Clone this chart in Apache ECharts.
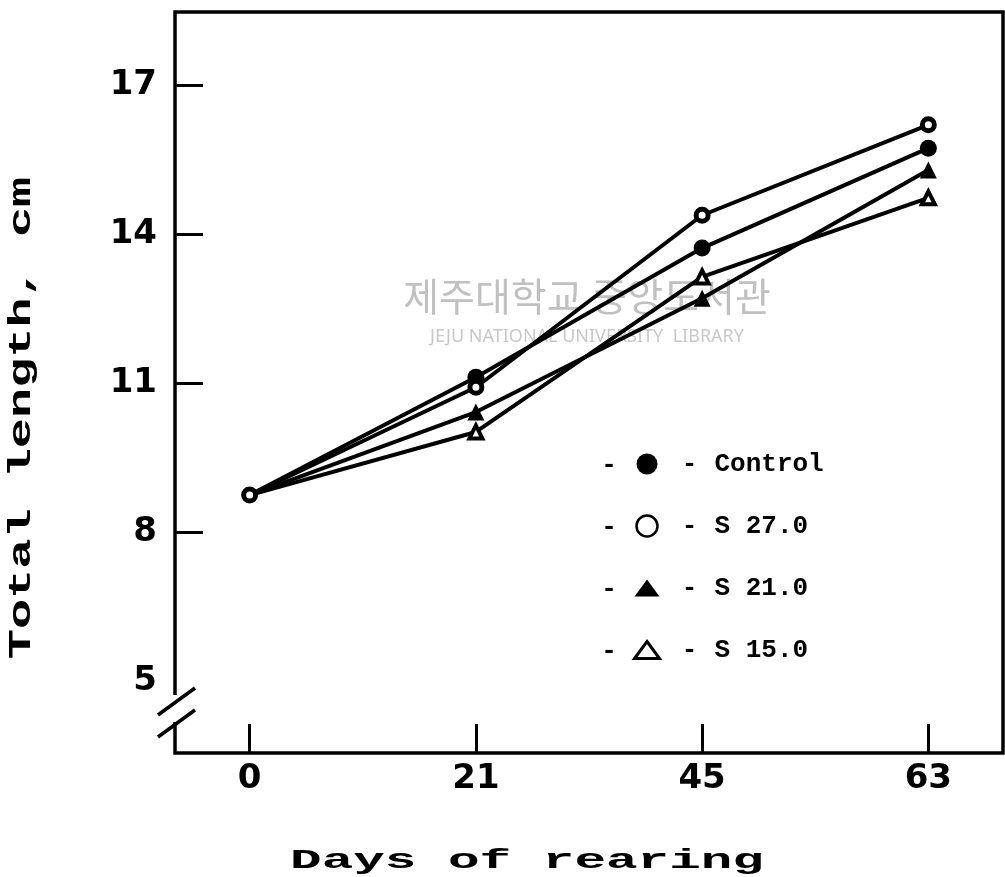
<!DOCTYPE html>
<html><head><meta charset="utf-8">
<script src="https://cdn.jsdelivr.net/npm/echarts@6/dist/echarts.min.js"></script>
<style>html,body{margin:0;padding:0;background:#fff}#c{width:1005px;height:877px}</style>
</head><body><div id="c"></div>
<script>
// ---- data ----
const days = ['0', '21', '45', '63'];
const control = [8.75, 11.12, 13.72, 15.73];
const s27 = [8.75, 10.92, 14.38, 16.20];
const s21 = [8.75, 10.42, 12.71, 15.29];
const s15 = [8.75, 10.02, 13.14, 14.73];
const yLabelValues = [5, 8, 11, 14, 17];
const yTickValues = [8, 11, 14, 17];
const names = ['Control', 'S 27.0', 'S 21.0', 'S 15.0'];

const TRI = 'path://M12.5,0L25,17L0,17Z';
const MONO = '"Liberation Mono", "DejaVu Sans Mono", monospace';
const NUM = '"DejaVu Sans", sans-serif';

function pts(vals, hideFirst) {
  return vals.map((v, i) => (hideFirst && i === 0) ? { value: [i, v], symbolSize: 0 } : [i, v]);
}
const line = { color: '#000', width: 4 };

const LEG_TOP = 451, LEG_ROW = 62;
const dashes = names.map((n, k) => ({
  type: 'text', z: 50, x: 609, y: LEG_TOP + 13 + k * LEG_ROW + 1,
  style: { text: '-', fontFamily: MONO, fontWeight: 'bold', fontSize: 26, fill: '#000', align: 'center', verticalAlign: 'middle' }
}));

const chart = echarts.init(document.getElementById('c'), null, { renderer: 'canvas' });
chart.setOption({
  animation: false,
  backgroundColor: '#fff',
  grid: { left: 175, right: 2, top: 12, bottom: 124, show: true, borderColor: '#000', borderWidth: 3.5, backgroundColor: 'transparent' },
  xAxis: {
    type: 'value', min: -0.33, max: 3.33,
    axisLine: { show: false, onZero: false },
    splitLine: { show: false },
    axisTick: { show: true, inside: true, length: 29, customValues: [0, 1, 2, 3], lineStyle: { color: '#000', width: 3 } },
    axisLabel: { customValues: [0, 1, 2, 3], formatter: v => days[Math.round(v)], margin: 9,
      fontFamily: NUM, fontWeight: 'bold', fontSize: 34, color: '#000' }
  },
  yAxis: {
    type: 'value', min: 3.56, max: 18.47,
    axisLine: { show: false, onZero: false },
    splitLine: { show: false },
    axisTick: { show: true, inside: true, length: 28, customValues: yTickValues, lineStyle: { color: '#000', width: 3 } },
    axisLabel: { customValues: yLabelValues, margin: 18,
      fontFamily: NUM, fontWeight: 'bold', fontSize: 34, color: '#000' }
  },
  legend: {
    orient: 'vertical', left: 633, top: LEG_TOP, padding: 0,
    itemWidth: 25, itemHeight: 21, itemGap: LEG_ROW - 26,
    selectedMode: false,
    data: [
      { name: names[0], icon: 'circle', itemStyle: { color: '#000', borderWidth: 0 } },
      { name: names[1], icon: 'circle', itemStyle: { color: '#fff', borderColor: '#000', borderWidth: 2.5 } },
      { name: names[2], icon: TRI, itemStyle: { color: '#000', borderWidth: 0 } },
      { name: names[3], icon: TRI, itemStyle: { color: '#fff', borderColor: '#000', borderWidth: 3 } }
    ],
    formatter: n => '{d|-}{t|' + n + '}',
    textStyle: {
      color: '#000',
      rich: {
        d: { width: 50, align: 'center', fontFamily: MONO, fontWeight: 'bold', fontSize: 26, lineHeight: 26, color: '#000' },
        t: { fontFamily: MONO, fontWeight: 'bold', fontSize: 26, lineHeight: 26, color: '#000' }
      }
    }
  },
  series: [
    { name: names[0], type: 'line', data: pts(control, true), symbol: 'circle', symbolSize: 17,
      itemStyle: { color: '#000' }, lineStyle: line },
    { name: names[2], type: 'line', data: pts(s21, true), symbol: 'triangle', symbolSize: 17,
      itemStyle: { color: '#000' }, lineStyle: line },
    { name: names[3], type: 'line', data: pts(s15, true), symbol: 'triangle', symbolSize: 13,
      itemStyle: { color: '#fff', borderColor: '#000', borderWidth: 4 }, lineStyle: line },
    { name: names[1], type: 'line', data: pts(s27, false), symbol: 'circle', symbolSize: 12,
      itemStyle: { color: '#fff', borderColor: '#000', borderWidth: 5 }, lineStyle: line }
  ],
  graphic: [
    // watermark
    { type: 'text', z: -10, x: 587, y: 296, style: { text: '제주대학교 중앙도서관', fontFamily: '"Noto Sans CJK KR"', fontSize: 39, fill: '#c0c0c0', align: 'center', verticalAlign: 'middle' } },
    { type: 'text', z: -10, x: 587, y: 337, style: { text: 'JEJU NATIONAL UNIVERSITY  LIBRARY', fontFamily: '"Noto Sans", sans-serif', fontSize: 18, fill: '#c8c8c8', align: 'center', verticalAlign: 'middle' } },
    // axis titles
    { type: 'text', z: 50, x: 22, y: 418, rotation: Math.PI / 2, scaleX: 1.57, scaleY: 1,
      style: { text: 'Total length, cm', fontFamily: MONO, fontWeight: 'bold', fontSize: 32, fill: '#000', align: 'center', verticalAlign: 'middle' } },
    { type: 'text', z: 50, x: 527, y: 861, scaleX: 1.88, scaleY: 1,
      style: { text: 'Days of rearing', fontFamily: MONO, fontWeight: 'bold', fontSize: 28, fill: '#000', align: 'center', verticalAlign: 'middle' } },
    // axis break
    { type: 'rect', z: 100, shape: { x: 168, y: 695, width: 14, height: 27 }, style: { fill: '#fff' } },
    { type: 'line', z: 101, shape: { x1: 158, y1: 715, x2: 195, y2: 688 }, style: { stroke: '#000', lineWidth: 3.5 } },
    { type: 'line', z: 101, shape: { x1: 158, y1: 737, x2: 195, y2: 710 }, style: { stroke: '#000', lineWidth: 3.5 } }
  ].concat(dashes)
});
</script>
</body></html>
